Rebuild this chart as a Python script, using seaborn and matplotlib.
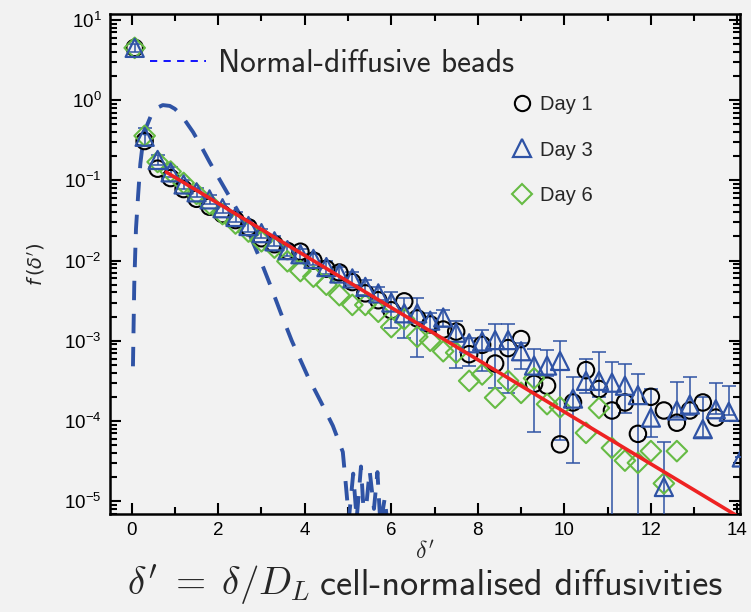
import matplotlib
matplotlib.use("Agg")
import matplotlib.pyplot as plt
from matplotlib.lines import Line2D
from matplotlib.ticker import LogLocator, MultipleLocator, NullFormatter
import numpy as np
import seaborn as sns

# bin centres (normalised diffusivity delta')
DELTA = [0.07, 0.3, 0.6, 0.9, 1.2, 1.5, 1.8, 2.1, 2.4, 2.7, 3.0, 3.3, 3.6, 3.9,
         4.2, 4.5, 4.8, 5.1, 5.4, 5.7, 6.0, 6.3, 6.6, 6.9, 7.2, 7.5, 7.8, 8.1,
         8.4, 8.7, 9.0, 9.3, 9.6, 9.9, 10.2, 10.5, 10.8, 11.1, 11.4, 11.7, 12.0,
         12.3, 12.6, 12.9, 13.2, 13.5, 13.8, 14.1]

nan = np.nan
DAY1 = [4.5, 0.31, 0.14, 0.107, 0.078, 0.059, 0.047, 0.038, 0.032, 0.026, 0.019,
        0.016, 0.0132, 0.0129, 0.010, 0.0079, 0.0071, 0.0054, 0.0039, 0.0032,
        0.0024, 0.0031, 0.0019, 0.0016, 0.00138, 0.0013, 0.00068, 0.00089,
        0.00052, 0.00081, 0.00105, 0.00029, 0.000275, 5.1e-5, 1.7e-4, 4.3e-4,
        2.5e-4, 1.35e-4, 1.7e-4, 6.9e-5, 2.0e-4, 1.35e-4, 9.5e-5, 1.35e-4,
        1.7e-4, 1.1e-4, nan, nan]

DAY3 = [4.5, 0.35, 0.18, 0.126, 0.089, 0.071, 0.058, 0.045, 0.035, 0.027, 0.022,
        0.0174, 0.0135, 0.012, 0.0105, 0.0083, 0.0069, 0.006, 0.0047, 0.0039,
        0.003, 0.0022, 0.0022, 0.00178, 0.00195, 0.00126, 0.00093, 0.00098,
        0.00102, 0.00102, 0.00074, 0.00049, 0.00049, 0.00056, 0.00019, 0.000316,
        0.000316, 0.0003, 0.000275, 0.00021, 0.00011, 1.5e-5, 1.35e-4, 1.6e-4,
        7.9e-5, 1.4e-4, 1.3e-4, 3.5e-5]
DAY3_LOW = [4.0, 0.28, 0.155, 0.11, 0.078, 0.062, 0.051, 0.039, 0.030, 0.023,
            0.019, 0.015, 0.0115, 0.010, 0.0089, 0.0068, 0.0057, 0.0049, 0.0037,
            0.0032, 0.00145, 0.00107, 0.00062, 0.00132, 0.0015, 0.00046, 0.00048,
            0.00042, 0.00026, 0.00022, 0.00045, 7.2e-5, 0.00036, 5.8e-5, 3.0e-5,
            0.00022, 0.0002, 1e-7, 0.000126, 1e-7, 6.3e-5, 1e-7, 0.000112,
            0.000117, 6.3e-5, 0.000123, 0.000117, 3.5e-5]
DAY3_HIGH = [5.0, 0.45, 0.21, 0.145, 0.10, 0.081, 0.066, 0.051, 0.040, 0.031,
             0.025, 0.020, 0.0155, 0.014, 0.0122, 0.0098, 0.0083, 0.0072, 0.0058,
             0.0047, 0.0041, 0.0034, 0.0034, 0.0022, 0.0024, 0.00174, 0.00107,
             0.00138, 0.0016, 0.0016, 0.00095, 0.00079, 0.00076, 0.00098, 0.00035,
             0.0006, 0.00072, 0.00055, 0.00052, 0.00038, 0.00025, 5.5e-5, 0.00031,
             0.00035, 0.0002, 0.0003, 0.000275, 3.5e-5]

DAY6 = [4.5, 0.36, 0.17, 0.129, 0.093, 0.068, 0.051, 0.038, 0.029, 0.023, 0.0174,
        0.0145, 0.0098, 0.0074, 0.0063, 0.005, 0.0037, 0.0028, 0.0028, 0.0023,
        0.00148, 0.00186, 0.00112, 0.001, 0.00074, 0.00071, 0.000316, 0.00038,
        0.000195, 0.000316, 0.000224, 0.00034, 0.000162, 0.000148, nan, 7.1e-5,
        0.000145, 4.6e-5, 3.2e-5, 3.0e-5, 4.2e-5, 1.66e-5, 4.2e-5, nan, nan, nan,
        nan, nan]

# exponential fit, end points
FIT_X = [0.8, 14.0]
FIT_Y = [0.127, 6.5e-6]

# normal-diffusive beads reference curve
BEADS_X = [0.03, 0.06, 0.10, 0.15, 0.20, 0.26, 0.35, 0.45, 0.58, 0.72, 0.88, 1.0,
           1.15, 1.42, 1.6, 1.8, 2.0, 2.19, 2.45, 2.69, 2.95, 3.2, 3.45, 3.7,
           4.07, 4.38, 4.65, 4.88, 4.95, 5.02, 5.12, 5.2, 5.3, 5.38, 5.5, 5.6,
           5.68, 5.75, 5.85, 5.95]
BEADS_Y = [4.8e-4, 5e-3, 0.025, 0.066, 0.16, 0.30, 0.48, 0.65, 0.80, 0.87, 0.85,
           0.78, 0.65, 0.40, 0.27, 0.17, 0.11, 0.073, 0.042, 0.0235, 0.011, 5e-3,
           2.2e-3, 1e-3, 3.6e-4, 1.7e-4, 8.7e-5, 4.1e-5, 1.6e-5, 6e-6, 2.2e-5,
           6e-6, 2.7e-5, 5e-6, 2.4e-5, 8e-6, 2.3e-5, 5e-6, 1.1e-5, 3e-6]

BG = "#f2f2f2"
BLUE = "#2f53a5"
GREEN = "#66bb44"
RED = "#ee2222"

sns.set_theme(style="ticks", rc={"figure.facecolor": BG, "axes.facecolor": BG,
                                 "savefig.facecolor": BG})
plt.rcParams["font.family"] = ["Liberation Sans", "DejaVu Sans"]

fig = plt.figure(figsize=(7.51, 6.12), dpi=100)
ax = fig.add_axes([0.1465, 0.1601, 0.8389, 0.8170])
ax.set_yscale("log")

sns.lineplot(x=BEADS_X, y=BEADS_Y, sort=False, estimator=None, color=BLUE,
             lw=2.8, ls=(0, (5, 3.5)), ax=ax, zorder=2)

d3 = np.array(DAY3)
ax.errorbar(DELTA, d3, yerr=[d3 - np.array(DAY3_LOW), np.array(DAY3_HIGH) - d3],
            fmt="none", ecolor=BLUE, elinewidth=1.1, capsize=5, capthick=1.1, zorder=3)

sns.scatterplot(x=DELTA, y=DAY1, marker="o", s=140, facecolor="none",
                edgecolor="black", linewidth=1.5, ax=ax, zorder=4)
sns.scatterplot(x=DELTA, y=DAY6, marker="D", s=110, facecolor="none",
                edgecolor=GREEN, linewidth=1.5, ax=ax, zorder=4)
sns.scatterplot(x=DELTA, y=DAY3, marker="^", s=170, facecolor="none",
                edgecolor=BLUE, linewidth=1.6, ax=ax, zorder=4)

sns.lineplot(x=FIT_X, y=FIT_Y, color=RED, lw=2.6, ax=ax, zorder=5)

ax.set_xlim(-0.5, 14.06)
ax.set_ylim(6.9e-6, 11.9)
ax.xaxis.set_major_locator(MultipleLocator(2))
ax.xaxis.set_minor_locator(MultipleLocator(1))
ax.yaxis.set_major_locator(LogLocator(base=10, numticks=20))
ax.yaxis.set_minor_locator(LogLocator(base=10, subs=np.arange(2, 10), numticks=20))
ax.yaxis.set_minor_formatter(NullFormatter())
ax.tick_params(which="both", direction="in", top=True, right=True, width=1.5,
               labelsize=13.5, colors="black")
ax.tick_params(which="major", length=8, pad=6)
ax.tick_params(which="minor", length=5)
for sp in ax.spines.values():
    sp.set_linewidth(1.8)
    sp.set_color("black")

ax.set_ylabel(r"$f\,(\delta')$", fontsize=14, labelpad=12)
ax.set_xlabel(r"$\delta'$", fontsize=17, labelpad=1, math_fontfamily="cm")

beads_handle = Line2D([], [], color="#0000ff", lw=1.3, ls=(0, (4, 3.5)))
leg1 = ax.legend([beads_handle], ["Normal-diffusive beads"], loc="center left",
                 bbox_to_anchor=(0.063, 0.902), frameon=False, borderpad=0,
                 borderaxespad=0, handlelength=1.8, handletextpad=0.4,
                 prop={"family": "cmss10", "size": 22.5})
ax.add_artist(leg1)

day_handles = [
    Line2D([], [], marker="o", ls="", mfc="none", mec="black", ms=11, mew=1.5),
    Line2D([], [], marker="^", ls="", mfc="none", mec=BLUE, ms=13, mew=1.6),
    Line2D([], [], marker="D", ls="", mfc="none", mec=GREEN, ms=10, mew=1.5),
]
ax.legend(day_handles, ["Day 1", "Day 3", "Day 6"], loc="center left",
          bbox_to_anchor=(0.638, 0.728), frameon=False, borderpad=0, borderaxespad=0,
          handlelength=1.0, handletextpad=0.4, labelspacing=1.3,
          prop={"family": "Liberation Sans", "size": 14.5})

# bottom caption: formula (serif math) followed by sans text
fig.text(0.413, 0.028, r"$\delta'\;=\;\delta/D_L$", ha="right", va="baseline",
         fontsize=28, math_fontfamily="cm")
fig.text(0.426, 0.028, "cell-normalised diffusivities", ha="left", va="baseline",
         fontsize=26, family="cmss10")

fig.savefig("out.png", dpi=100)
